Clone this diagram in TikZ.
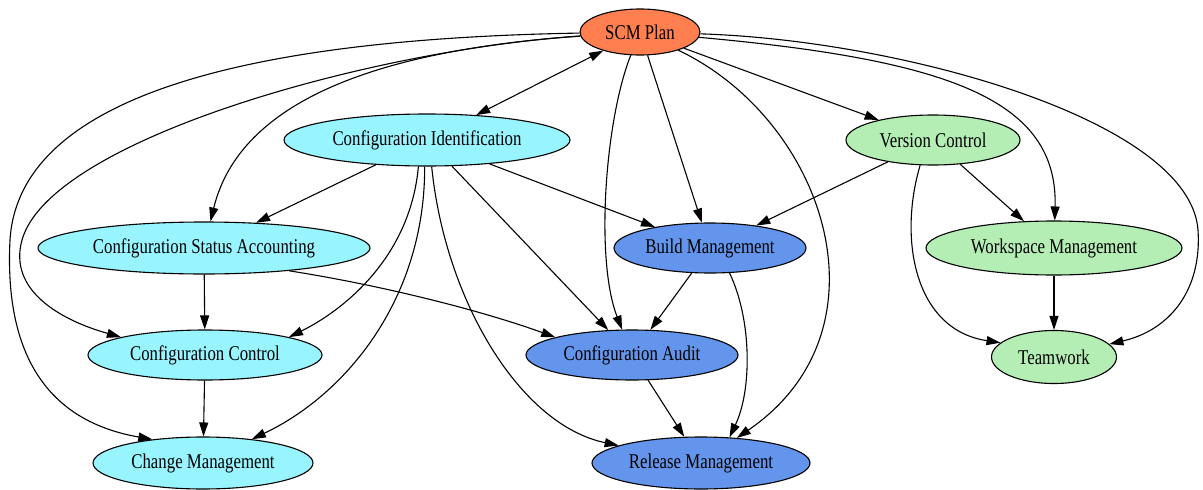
\documentclass[tikz,border=0pt]{standalone}
\usepackage{fontspec}
\setmainfont{Liberation Serif}[FakeStretch=0.8]
\usetikzlibrary{shapes.geometric,arrows.meta}
\definecolor{scmorange}{HTML}{FF7F50}
\definecolor{cicyan}{HTML}{98F5FF}
\definecolor{vcgreen}{HTML}{B4EEB4}
\definecolor{bmblue}{HTML}{6495ED}
\begin{document}
\begin{tikzpicture}[x=1pt,y=-1pt,
  >={Triangle[length=14pt,width=9pt]},
  gnode/.style={ellipse, draw=black, line width=1.1pt, inner sep=0pt,
    font=\fontsize{21}{24}\selectfont},
  edge/.style={line width=1.1pt, ->},
]
\useasboundingbox (0,0) rectangle (1203,490);
% nodes
\node[gnode, fill=scmorange, minimum width=120pt, minimum height=46pt] (scm) at (640,32) {SCM Plan};
\node[gnode, fill=cicyan, minimum width=286pt, minimum height=52pt] (ci) at (427,140) {Configuration Identification};
\node[gnode, fill=vcgreen, minimum width=174pt, minimum height=50pt] (vc) at (933,140) {Version Control};
\node[gnode, fill=cicyan, minimum width=332pt, minimum height=52pt] (csa) at (204,248) {Configuration Status Accounting};
\node[gnode, fill=bmblue, minimum width=192pt, minimum height=50pt] (bm) at (710,248) {Build Management};
\node[gnode, fill=vcgreen, minimum width=256pt, minimum height=54pt] (wm) at (1054,248) {Workspace Management};
\node[gnode, fill=cicyan, minimum width=234pt, minimum height=50pt] (cc) at (205,355) {Configuration Control};
\node[gnode, fill=bmblue, minimum width=212pt, minimum height=50pt] (ca) at (632,355) {Configuration Audit};
\node[gnode, fill=vcgreen, minimum width=125pt, minimum height=53pt] (tw) at (1054,357) {Teamwork};
\node[gnode, fill=cicyan, minimum width=220pt, minimum height=52pt] (chm) at (203,463) {Change Management};
\node[gnode, fill=bmblue, minimum width=218pt, minimum height=52pt] (rm) at (701,463) {Release Management};
% edges from SCM Plan
\draw[edge,<->] (scm) -- (ci);
\draw[edge] (scm) .. controls (380,50) and (240,100) .. (csa);
\draw[edge] (scm) .. controls (370,50) and (50,140) .. (22,240) .. controls (8,290) and (60,320) .. (cc.168);
\draw[edge] (scm) .. controls (300,38) and (20,80) .. (10,240) .. controls (3,380) and (70,425) .. (chm.155);
\draw[edge] (scm) -- (bm);
\draw[edge] (scm) .. controls (605,120) and (595,260) .. (ca);
\draw[edge] (scm) .. controls (825,120) and (895,330) .. (rm.35);
\draw[edge] (scm) -- (vc);
\draw[edge] (scm) .. controls (950,60) and (1058,100) .. (wm);
\draw[edge] (scm) .. controls (900,40) and (1190,120) .. (1198,230) .. controls (1202,290) and (1170,330) .. (tw);
% edges from Configuration Identification
\draw[edge] (ci) -- (csa);
\draw[edge] (ci) -- (bm);
\draw[edge] (ci) -- (ca);
\draw[edge] (ci.-108) .. controls (410,260) and (340,312) .. (cc.12);
\draw[edge] (ci.-95) .. controls (425,300) and (345,395) .. (chm.26);
\draw[edge] (ci.-80) .. controls (445,300) and (520,425) .. (rm.168);
% edges from Version Control
\draw[edge] (vc) -- (bm);
\draw[edge] (vc) -- (wm);
\draw[edge] (vc.-117) .. controls (898,240) and (915,330) .. (tw.165);
% other edges
\draw[edge] (csa) -- (cc);
\draw[edge] (csa.-15) .. controls (380,285) and (480,310) .. (ca.167);
\draw[edge] (bm) -- (ca);
\draw[edge] (bm.-52) .. controls (752,320) and (752,390) .. (rm.42);
\draw[edge] (ca) -- (rm);
\draw[edge] (cc) -- (chm);
\draw[edge] (wm) -- (tw);
\end{tikzpicture}
\end{document}
